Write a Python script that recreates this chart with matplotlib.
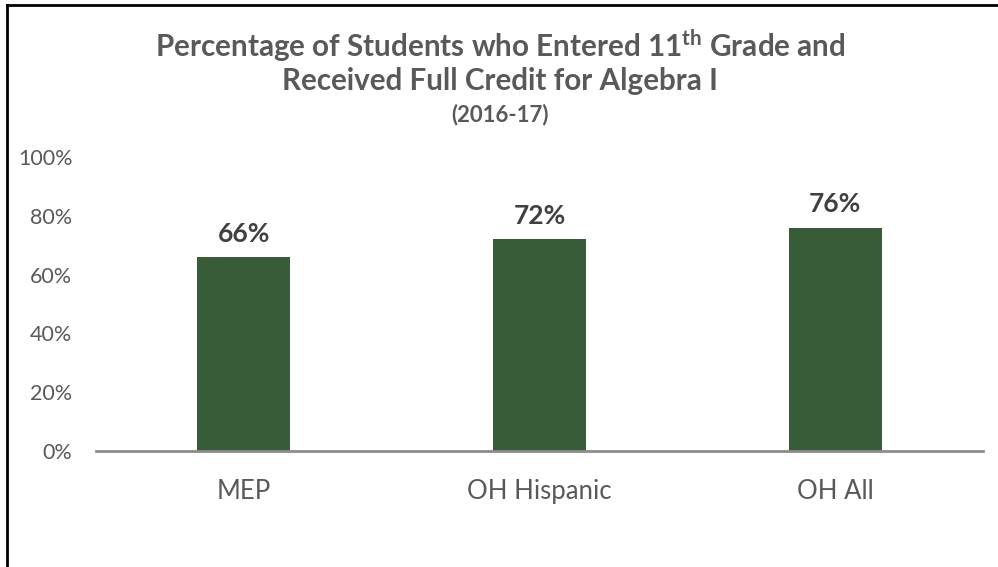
import matplotlib
matplotlib.use("Agg")
import matplotlib.pyplot as plt
from matplotlib.lines import Line2D

categories = ["MEP", "OH Hispanic", "OH All"]
values = [66, 72, 76]
yticks = [0, 20, 40, 60, 80, 100]

plt.rcParams['font.family'] = ['Lato', 'DejaVu Sans']

W, H = 998, 567
fig = plt.figure(figsize=(W/100, H/100), dpi=100)
ax = fig.add_axes([96/W, 1-451/H, (983-96)/W, (451-157)/H])

x = list(range(len(categories)))
ax.bar(x, values, width=0.315, color="#385B38", zorder=2)
ax.set_xlim(-0.5, 2.5)
ax.set_ylim(0, 100)
ax.set_yticks(yticks)
ax.set_yticklabels([f"{v}%" for v in yticks], fontsize=15.5, color="#595959")
ax.set_xticks(x)
ax.set_xticklabels(categories, fontsize=18.5, color="#595959")
ax.tick_params(axis='both', length=0)
ax.tick_params(axis='y', pad=17)
ax.tick_params(axis='x', pad=20)
for s in ["top", "right", "left"]:
    ax.spines[s].set_visible(False)
ax.spines["bottom"].set_color("#8C8C8C")
ax.spines["bottom"].set_linewidth(2)

for xi, v in zip(x, values):
    ax.annotate(f"{v}%", (xi, v), xytext=(0, 8), textcoords="offset points",
                ha="center", va="bottom", fontsize=19, fontweight="bold", color="#404040")

fig.text(500/W, 1-46/H, "Percentage of Students who Entered 11$^{\\mathregular{th}}$ Grade and",
         ha="center", va="center", fontsize=21.3, fontweight="bold", color="#595959")
fig.text(500/W, 1-81/H, "Received Full Credit for Algebra I",
         ha="center", va="center", fontsize=21.3, fontweight="bold", color="#595959")
fig.text(500/W, 1-115/H, "(2016-17)",
         ha="center", va="center", fontsize=16, fontweight="bold", color="#595959")

fig.add_artist(Line2D([7/W, 1], [1-5/H, 1-5/H], color="black", linewidth=2, transform=fig.transFigure))
fig.add_artist(Line2D([7/W, 7/W], [1-5/H, 0], color="black", linewidth=2, transform=fig.transFigure))

fig.savefig("out.png", dpi=100)
